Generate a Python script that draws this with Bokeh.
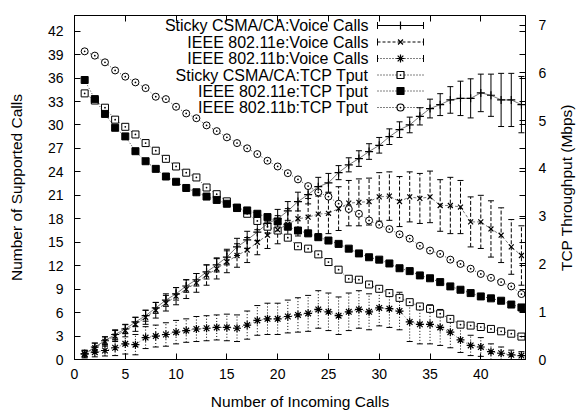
import math
from bokeh.plotting import figure
from bokeh.models import Range1d, LinearAxis, FixedTicker, Whisker, TeeHead, ColumnDataSource, Label
from bokeh.embed import file_html
from bokeh.resources import INLINE

# ---------------- data ----------------
incoming_calls = list(range(1, 45))

sticky_voice = [0.73, 1.6, 2.4, 3.2, 3.9, 4.8, 5.6, 6.6, 7.6, 8.4, 9.4, 10.2, 11.2, 12.1, 13.1,
                14.4, 15.3, 16.3, 17.4, 18.0, 19.0, 20.2, 21.1, 22.1, 22.6, 23.9, 24.9, 25.7, 26.6,
                27.4, 28.5, 29.4, 30.0, 31.1, 32.1, 32.6, 33.2, 33.4, 33.4, 34.1, 33.8, 33.2, 33.2, 32.6]
sticky_voice_err = [0.4, 0.5, 0.5, 0.6, 0.55, 0.6, 0.7, 0.7, 0.8, 0.8, 0.8, 0.8, 0.9, 0.9, 1.0,
                    1.1, 1.1, 1.1, 1.2, 1.2, 1.2, 1.2, 1.2, 1.2, 1.2, 0.9, 0.9, 1.0, 1.0, 1.0,
                    1.0, 1.0, 1.0, 1.1, 1.2, 1.4, 1.7, 2.2, 2.5, 2.4, 2.7, 3.4, 3.4, 3.6]

e_voice = [0.7, 1.5, 2.3, 3.0, 3.7, 4.5, 5.4, 6.3, 7.2, 8.1, 9.0, 9.8, 10.8, 11.6, 12.5, 13.3,
           14.0, 15.0, 15.9, 16.6, 17.3, 18.0, 18.2, 18.6, 18.7, 19.3, 20.0, 20.1, 20.2, 20.8,
           20.9, 20.2, 20.8, 20.6, 20.8, 19.7, 19.7, 19.5, 17.6, 17.6, 16.7, 15.9, 14.4, 13.3]
e_voice_err = [0.5, 0.6, 0.6, 0.7, 0.8, 0.9, 0.9, 1.0, 1.0, 1.1, 1.2, 1.2, 1.3, 1.3, 1.4,
               1.5, 1.6, 1.6, 1.7, 1.8, 2.0, 2.2, 2.4, 2.5, 2.6, 2.8, 2.9, 3.0, 3.0, 3.1,
               3.1, 3.2, 3.2, 3.2, 3.3, 3.3, 3.6, 3.4, 3.2, 3.4, 3.6, 3.5, 3.5, 3.8]

b_voice = [0.73, 0.94, 1.15, 1.5, 2.0, 1.9, 2.8, 3.0, 3.2, 3.5, 3.7, 3.9, 4.0, 4.1, 4.1, 4.0,
           4.4, 5.0, 5.2, 5.2, 5.5, 5.7, 5.9, 6.4, 6.1, 5.6, 6.1, 6.4, 6.1, 6.6, 6.5, 6.2, 4.8,
           4.5, 4.5, 4.1, 3.5, 2.5, 1.8, 1.6, 1.0, 0.8, 0.6, 0.5]
b_voice_err = [0.4, 0.6, 0.7, 1.0, 1.3, 1.3, 1.4, 1.4, 1.5, 1.5, 1.5, 1.6, 1.6, 1.6, 1.7,
               1.7, 1.8, 1.9, 2.0, 2.0, 2.1, 2.2, 2.3, 2.4, 2.4, 2.4, 2.4, 2.4, 2.3, 2.3,
               2.4, 2.4, 2.5, 2.5, 2.5, 2.3, 2.0, 1.6, 1.3, 1.2, 1.0, 0.8, 0.6, 0.5]

sticky_tput = [5.57, 5.42, 5.27, 5.02, 4.87, 4.71, 4.53, 4.37, 4.20, 4.04, 3.91, 3.81, 3.60, 3.46,
               3.31, 3.18, 3.05, 2.90, 2.78, 2.70, 2.55, 2.37, 2.32, 2.20, 2.04, 1.88, 1.69, 1.67,
               1.57, 1.48, 1.39, 1.29, 1.20, 1.11, 1.06, 0.96, 0.85, 0.73, 0.71, 0.68, 0.64, 0.59,
               0.54, 0.48]
e_tput = [5.85, 5.45, 5.14, 4.85, 4.67, 4.36, 4.15, 3.99, 3.83, 3.72, 3.59, 3.50, 3.41, 3.34,
          3.26, 3.17, 3.12, 3.05, 2.98, 2.89, 2.78, 2.70, 2.64, 2.56, 2.49, 2.42, 2.32, 2.22,
          2.14, 2.09, 2.01, 1.91, 1.85, 1.76, 1.70, 1.62, 1.53, 1.46, 1.39, 1.32, 1.28, 1.23,
          1.15, 1.09]
b_tput = [6.45, 6.36, 6.22, 6.05, 5.92, 5.80, 5.68, 5.50, 5.45, 5.29, 5.15, 5.05, 4.90, 4.78,
          4.65, 4.53, 4.42, 4.30, 4.16, 4.04, 3.90, 3.77, 3.63, 3.50, 3.41, 3.26, 3.15, 3.05,
          2.91, 2.82, 2.73, 2.62, 2.53, 2.38, 2.28, 2.21, 2.09, 2.00, 1.90, 1.79, 1.71, 1.62,
          1.53, 1.37]

x_ticks = [0, 5, 10, 15, 20, 25, 30, 35, 40]
y_ticks = [0, 3, 6, 9, 12, 15, 18, 21, 24, 27, 30, 33, 36, 39, 42]
y2_ticks = [0, 1, 2, 3, 4, 5, 6, 7]

legend_labels = ["Sticky CSMA/CA:Voice Calls", "IEEE 802.11e:Voice Calls", "IEEE 802.11b:Voice Calls",
                 "Sticky CSMA/CA:TCP Tput", "IEEE 802.11e:TCP Tput", "IEEE 802.11b:TCP Tput"]
y2_title = "TCP Throughput (Mbps)"

# ---------------- layout ----------------
W, H = 582, 413
FL, FR, FT, FB = 74, 57, 15, 54
X0, X1 = 0, 44.4
Y0, Y1 = 0, 44
T0, T1 = 0, 7.2
FONT = "Liberation Sans"

p = figure(width=W, height=H, x_range=Range1d(X0, X1), y_range=Range1d(Y0, Y1),
           output_backend="svg", toolbar_location=None,
           min_border_left=FL, min_border_right=FR, min_border_top=FT, min_border_bottom=FB)
p.extra_y_ranges = {"tput": Range1d(T0, T1)}
p.grid.visible = False
p.outline_line_color = "black"
p.outline_line_width = 1
p.background_fill_color = "white"
p.border_fill_color = "white"


def style_axis(ax, label_size="14px"):
    ax.major_tick_in = 6
    ax.major_tick_out = 0
    ax.minor_tick_in = 0
    ax.minor_tick_out = 0
    ax.axis_line_color = "black"
    ax.major_tick_line_color = "black"
    ax.major_label_text_font = FONT
    ax.major_label_text_font_size = label_size
    ax.major_label_text_color = "black"
    ax.axis_label_text_font = FONT
    ax.axis_label_text_font_size = "15.5px"
    ax.axis_label_text_font_style = "normal"
    ax.axis_label_text_color = "black"


xa = p.xaxis[0]
xa.ticker = FixedTicker(ticks=x_ticks)
style_axis(xa)
xa.major_label_standoff = 9
xa.axis_label = "Number of Incoming Calls"
xa.axis_label_standoff = 11

ya = p.yaxis[0]
ya.ticker = FixedTicker(ticks=y_ticks)
style_axis(ya)
ya.major_label_standoff = 11
ya.axis_label = "Number of Supported Calls"
ya.axis_label_standoff = 20

ratio = (T1 - T0) / (Y1 - Y0)
y2 = LinearAxis(y_range_name="tput",
                ticker=FixedTicker(ticks=y2_ticks, minor_ticks=[t * ratio for t in y_ticks]))
style_axis(y2)
y2.minor_tick_in = 6
y2.minor_tick_line_color = "black"
y2.major_label_standoff = 13
p.add_layout(y2, "right")

xt = LinearAxis(ticker=FixedTicker(ticks=x_ticks))
style_axis(xt)
xt.major_label_overrides = {t: "" for t in x_ticks}
xt.major_label_standoff = 0
p.add_layout(xt, "above")

# ---------------- series ----------------
# TCP throughput (right axis)
for vals, marker, fill in [(sticky_tput, "square_dot", "white"),
                           (e_tput, "square", "black"),
                           (b_tput, "circle_dot", "white")]:
    p.line(incoming_calls, vals, y_range_name="tput", line_color="#333333",
           line_width=0.9, line_dash="1 2")
    p.scatter(incoming_calls, vals, y_range_name="tput", marker=marker, size=7,
              line_color="black", fill_color=fill, line_width=1)

# Voice calls with error bars
voice = [(sticky_voice, sticky_voice_err, "cross", "solid", "solid", 8),
         (e_voice, e_voice_err, "x", "4 2", "3 2", 7),
         (b_voice, b_voice_err, "asterisk", "1 2", "1 2", 8)]
for vals, errs, marker, bar_dash, line_dash, msize in voice:
    src = ColumnDataSource(dict(x=incoming_calls, y=vals,
                                lo=[v - e for v, e in zip(vals, errs)],
                                up=[v + e for v, e in zip(vals, errs)]))
    w = Whisker(source=src, base="x", lower="lo", upper="up",
                line_color="black", line_width=1, line_dash=bar_dash,
                lower_head=TeeHead(size=6, line_width=1, line_color="black"),
                upper_head=TeeHead(size=6, line_width=1, line_color="black"))
    p.add_layout(w)
    p.line("x", "y", source=src, line_color="#555555", line_width=0.8, line_dash=line_dash)
    p.scatter("x", "y", source=src, marker=marker, size=msize, line_color="black",
              line_width=1.2)

# ---------------- legend (gnuplot style: text then sample) ----------------
frame_w = W - FL - FR
frame_h = H - FT - FB


def sx(px):
    return X0 + (px - FL) / frame_w * (X1 - X0)


def sy(py):
    return Y0 + (H - FB - py) / frame_h * (Y1 - Y0)


row_py = [25, 41.5, 58, 74.5, 90.5, 107]
text_right = 368
samp_l, samp_r, samp_m = 377, 423, 400
legend_styles = [("cross", "white", "solid", True, 8),
                 ("x", "white", "3 2", True, 7),
                 ("asterisk", "white", "1 2", True, 8),
                 ("square_dot", "white", "1 2", False, 7),
                 ("square", "black", "1 2", False, 7),
                 ("circle_dot", "white", "1 2", False, 7)]
for lab, py, (marker, fill, dash, caps, msize) in zip(legend_labels, row_py, legend_styles):
    p.add_layout(Label(x=sx(text_right), y=sy(py), text=lab, text_align="right",
                       text_baseline="middle", text_font=FONT, text_font_size="16px",
                       text_color="black"))
    p.line([sx(samp_l), sx(samp_r)], [sy(py), sy(py)], line_color="black",
           line_width=1, line_dash=dash)
    if caps:
        p.scatter([sx(samp_l), sx(samp_r)], [sy(py), sy(py)], marker="dash",
                  angle=math.pi / 2, size=7, line_color="black", line_width=1)
    p.scatter([sx(samp_m)], [sy(py)], marker=marker, size=msize, line_color="black",
              fill_color=fill, line_width=1.2)

# right-axis title, reading bottom-to-top as in the original (canvas pixel units),
# placed in the right-side panel so that it is not clipped to the frame
p.add_layout(Label(x=566, y=187, x_units="canvas", y_units="canvas", text=y2_title,
                   angle=math.pi / 2, text_align="center", text_baseline="middle",
                   text_font=FONT, text_font_size="15.5px", text_color="black"), "right")

open("out.html", "w").write(file_html(p, INLINE))
